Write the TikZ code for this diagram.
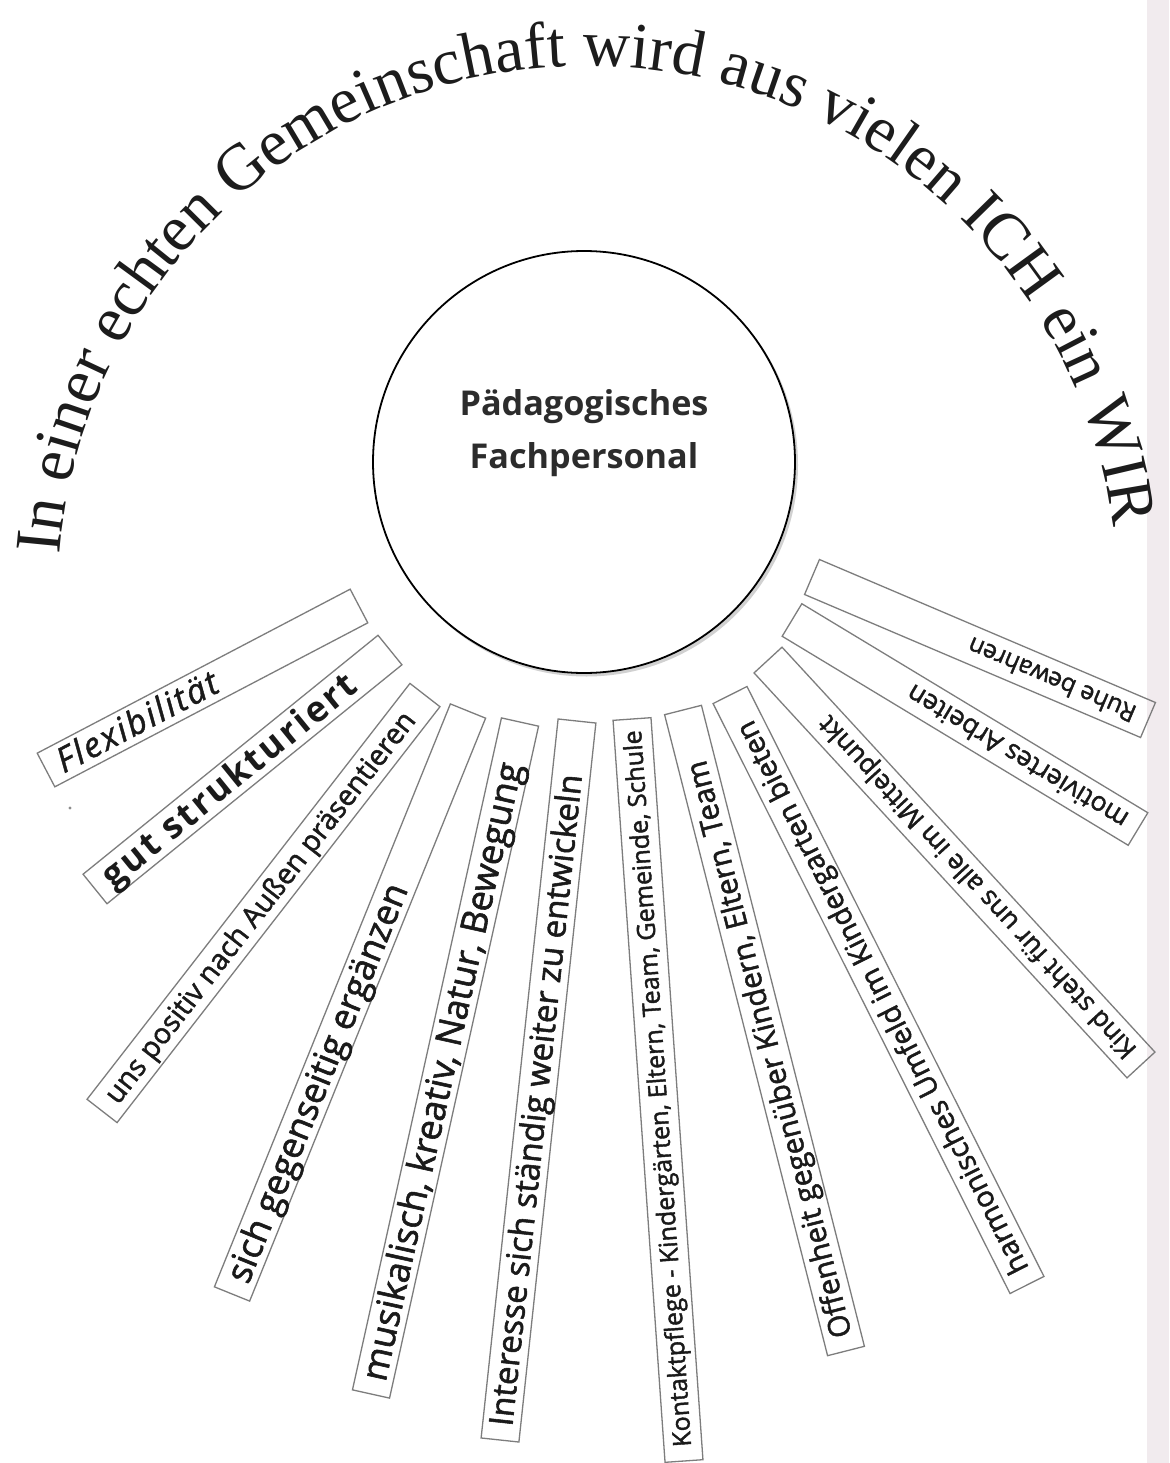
\documentclass[tikz,border=0pt]{standalone}
\usepackage{fontspec}
\setmainfont{Liberation Serif}
\newfontfamily\osfont{Open Sans}
\newfontfamily\stripfamily[FakeBold=1.6]{Open Sans}
\newfontfamily\gutfamily[LetterSpace=7]{Open Sans}
\newfontfamily\flexfamily[LetterSpace=6,FakeBold=1.2]{Open Sans}
\usetikzlibrary{calc,decorations.text}
\definecolor{titlecol}{HTML}{1C1C1C}
\definecolor{txtcol}{HTML}{1A1A1A}
\definecolor{stripcol}{HTML}{7D7D7D}
\definecolor{edgecol}{HTML}{F1EBEE}
\newcommand\flexfont{\flexfamily\itshape}
\newcommand\gutfont{\gutfamily\bfseries}
\newcommand\plainfont{\stripfamily}
\tikzset{
  stripbox/.style={draw=stripcol, line width=1.3pt, minimum height=38pt, inner sep=0pt},
  striptext/.style={inner sep=0pt, text=txtcol},
  centertext/.style={anchor=base, inner sep=0pt, text=txtcol!92, font=\osfont\bfseries\fontsize{34.2}{40}\selectfont},
  bigcircle/.style={circle, draw=black, line width=1.8pt, fill=white, minimum size=422pt, inner sep=0pt}
}
\begin{document}
\begin{tikzpicture}[x=1pt,y=1pt]
\useasboundingbox (0,0) rectangle (1169,-1463);
\fill[white] (0,0) rectangle (1169,-1463);
\fill[edgecol] (1147,0) rectangle (1169,-1463);

% title along arc
\path[decorate, decoration={text along path, text align=center,
  text={|\fontsize{65.5}{70}\selectfont\color{titlecol}|In einer echten Gemeinschaft wird aus vielen ICH ein WIR}}]
  (588,-596) ++(180:530) arc[start angle=180, end angle=3, radius=530];

% central circle
\fill[black!18] (586.5,-465) circle (211.5);
\node[bigcircle] (c) at (584,-462) {};
\node[centertext] (c1) at (584,-415) {Pädagogisches};
\node[centertext] (c2) at (584,-468) {Fachpersonal};

% small dot
\fill[black!45] (70,-808) circle (1.6) coordinate (dot);

% strips
\foreach \fx/\fy/\nx/\ny/\len/\fnt/\txt [count=\i] in {
  46/770/359/606/178/\flexfont/{Flexibilität},
  95/889/390/650/317/\gutfont/{gut strukturiert},
  102/1111/425/695/487/\plainfont/{uns positiv nach Außen präsentieren},
  232/1294/468/711/427/\plainfont/{sich gegenseitig ergänzen},
  371/1394/520/722/632/\plainfont/{musikalisch, kreativ, Natur, Bewegung},
  500/1440/577/721/655/\plainfont/{Interesse sich ständig weiter zu entwickeln},
  684/1461/632/719/718/\plainfont/{Kontaktpflege - Kindergärten, Eltern, Team, Gemeinde, Schule},
  846/1351/683/710/594/\plainfont/{Offenheit gegenüber Kindern, Eltern, Team},
  1027/1285/730/695/615/\plainfont/{harmonisches Umfeld im Kindergarten bieten},
  1141/1065/768/660/455/\plainfont/{Kind steht für uns alle im Mittelpunkt},
  1138/829/792/620/253/\plainfont/{motiviertes Arbeiten},
  1148/720/812/577/180/\plainfont/{Ruhe bewahren}}{
  \coordinate (F\i) at (\fx,-\fy);
  \coordinate (N\i) at (\nx,-\ny);
  \path let \p1=(N\i), \p2=(F\i),
        \n1={atan2(\y1-\y2,\x1-\x2)}, \n2={veclen(\x1-\x2,\y1-\y2)} in
    node[stripbox, rotate=\n1, minimum width=\n2] (s\i) at ($(F\i)!0.5!(N\i)$) {}
    node[striptext, rotate=\n1, anchor=west] (t\i) at ($(F\i)!14pt!(N\i)$)
      {\resizebox{\len pt}{!}{\fnt\txt\vphantom{Äg}}};
}
\end{tikzpicture}
\end{document}
